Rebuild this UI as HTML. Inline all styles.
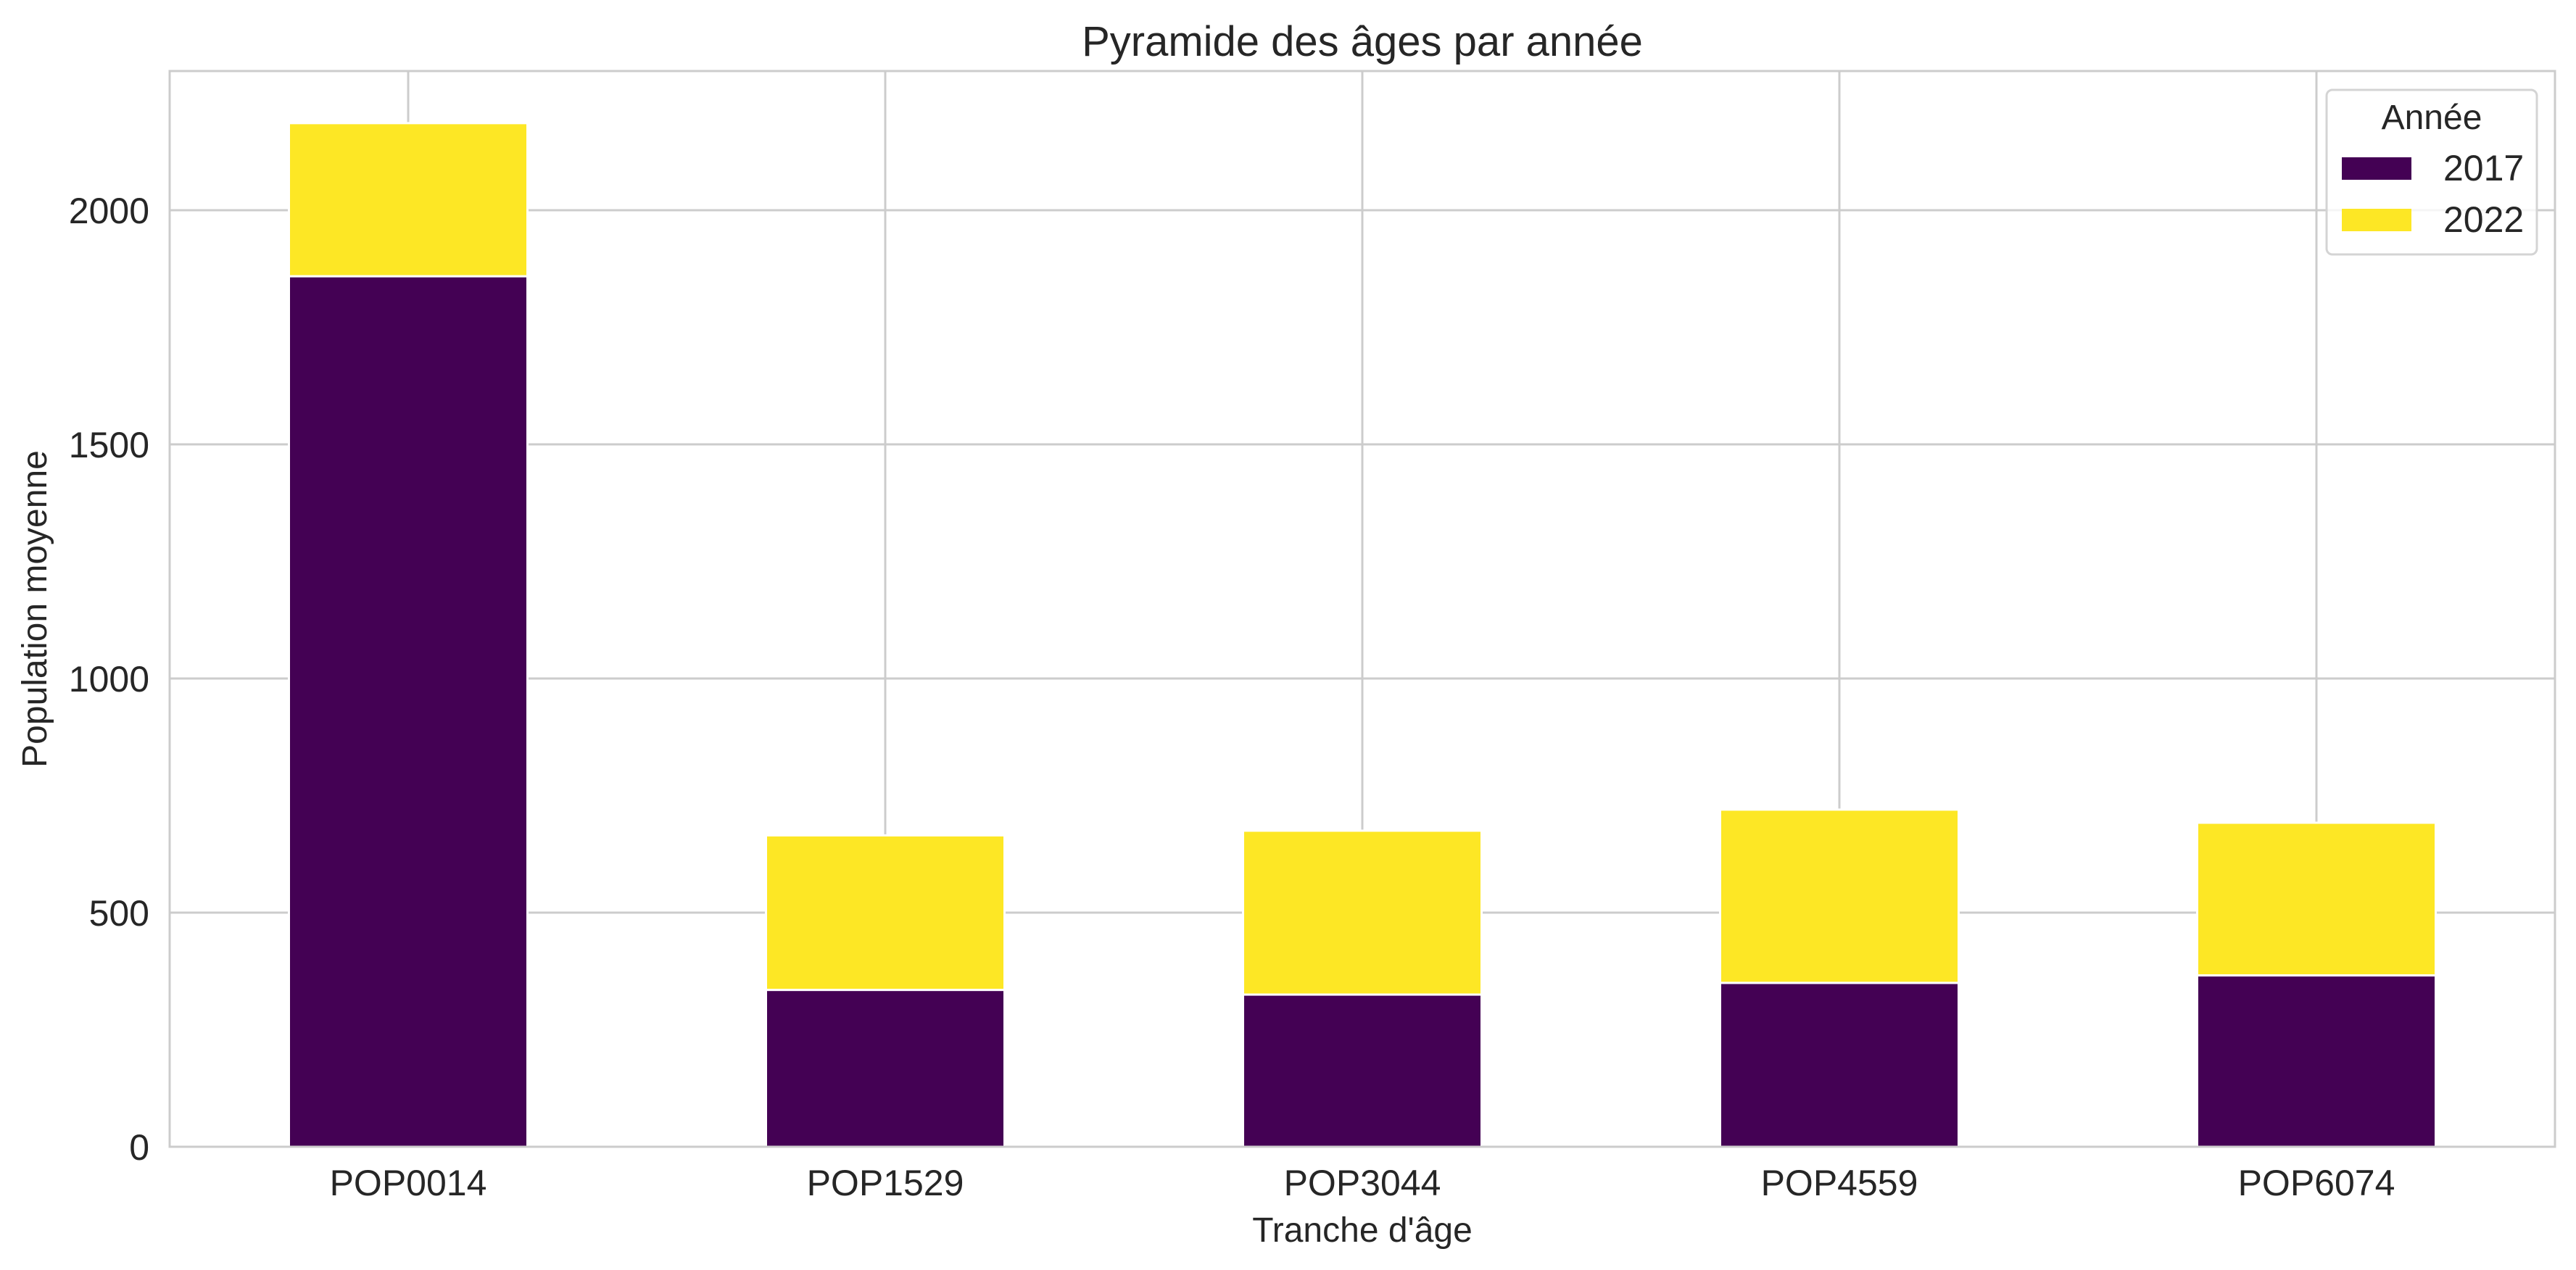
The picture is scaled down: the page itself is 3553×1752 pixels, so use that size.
<!DOCTYPE html>
<html><head><meta charset="utf-8"><style>
html,body{margin:0;padding:0;background:#fff}
svg{display:block;font-family:"Liberation Sans",Arial,sans-serif}
</style></head><body>
<svg id="chart" width="3553" height="1752" viewBox="0 0 3553 1752" xmlns="http://www.w3.org/2000/svg">
<rect width="3553" height="1752" fill="#fff"/>
<g id="grid"></g>
<g id="bars"></g>
<rect x="234" y="98" width="3290" height="1484" fill="none" stroke="#cccccc" stroke-width="3"/>
<g id="yticks"></g>
<g id="xticks"></g>
<text x="1879" y="77" text-anchor="middle" font-size="58" fill="#262626">Pyramide des âges par année</text>
<text x="1879" y="1713" text-anchor="middle" font-size="48" fill="#262626">Tranche d'âge</text>
<text transform="translate(64,840) rotate(-90)" text-anchor="middle" font-size="48" fill="#262626">Population moyenne</text>
<g>
<rect x="3209" y="124" width="290" height="227" rx="8" fill="#fff" fill-opacity="0.8" stroke="#d4d4d4" stroke-width="3"/>
<text x="3354" y="178" text-anchor="middle" font-size="48" fill="#262626">Année</text>
<g>
<rect x="3230" y="217" width="96" height="31" fill="#440154"/>
<text x="3370" y="249" font-size="50" fill="#262626">2017</text>
</g>
<g>
<rect x="3230" y="288" width="96" height="31" fill="#fde725"/>
<text x="3370" y="320" font-size="50" fill="#262626">2022</text>
</g>
</g>
</svg>
<script>
const categories = ["POP0014","POP1529","POP3044","POP4559","POP6074"];
const values2017 = [1859, 335, 325, 350, 366];
const values2022 = [327, 330, 350, 370, 326];
const yTicks = [0, 500, 1000, 1500, 2000];
const yTickLabels = ["0","500","1000","1500","2000"];

const NS = "http://www.w3.org/2000/svg";
const L = 234, R = 3524, T = 98, B = 1582;
const yMax = (B - T) / 0.646 ;
function y(v){ return B - v * (B - T) / yMax; }
function x(i){ return L + (i + 0.5) * (R - L) / categories.length; }
const bw = 0.5 * (R - L) / categories.length;
function mk(tag, attrs, parent){ const e = document.createElementNS(NS, tag); for (const k in attrs) e.setAttribute(k, attrs[k]); parent.appendChild(e); return e; }

const grid = document.getElementById('grid');
yTicks.forEach((v, i) => {
  const ln = mk('line', {x1: L, x2: R, y1: y(v), y2: y(v), stroke: '#cccccc', 'stroke-width': 3}, grid);
  
  
  const t = mk('text', {x: 206, y: y(v) + 18, 'text-anchor': 'end', 'font-size': 50, fill: '#262626'}, document.getElementById('yticks'));
  t.textContent = yTickLabels[i];
  
  
});
categories.forEach((c, i) => {
  const ln = mk('line', {x1: x(i), x2: x(i), y1: T, y2: B, stroke: '#cccccc', 'stroke-width': 3}, grid);
  
  
  const t = mk('text', {x: x(i), y: 1649, 'text-anchor': 'middle', 'font-size': 50, fill: '#262626'}, document.getElementById('xticks'));
  t.textContent = c;
  
  
});
const bars = document.getElementById('bars');
categories.forEach((c, i) => {
  const a = values2017[i], b = values2022[i];
  const r1 = mk('rect', {x: x(i) - bw/2, y: y(a), width: bw, height: y(0) - y(a), fill: '#440154', stroke: '#fff', 'stroke-width': 3}, bars);
  
  
  const r2 = mk('rect', {x: x(i) - bw/2, y: y(a + b), width: bw, height: y(a) - y(a + b), fill: '#fde725', stroke: '#fff', 'stroke-width': 3}, bars);
  
  
});
</script>
</body></html>
